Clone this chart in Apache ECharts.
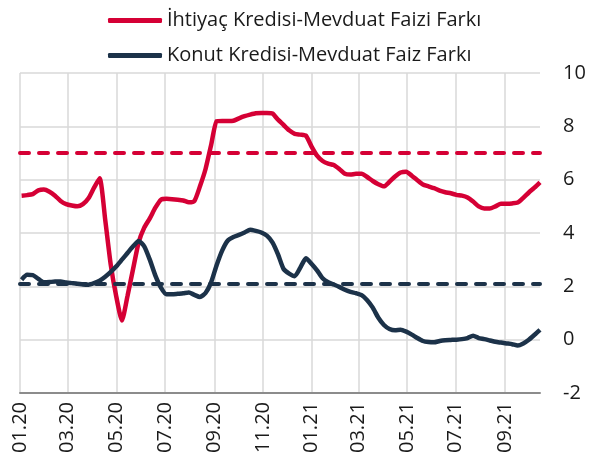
<!DOCTYPE html>
<html>
<head>
<meta charset="utf-8">
<script src="https://cdn.jsdelivr.net/npm/echarts@6/dist/echarts.min.js"></script>
<style>
  html, body { margin: 0; padding: 0; background: #fff; }
  #chart { width: 605px; height: 471px; }
</style>
</head>
<body>
<div id="chart"></div>
<script>
// ---- data (weekly) ----
const firstWeek = '2020-01-03';
const lastDay = '2021-10-15';

const ihtiyacValues = [
  5.40, 5.42, 5.46, 5.60, 5.63, 5.55, 5.40, 5.20, 5.08, 5.03,
  5.00, 5.08, 5.30, 5.70, 6.05, 4.50, 2.80, 1.60, 0.72, 1.64,
  2.65, 3.65, 4.20, 4.55, 4.95, 5.25, 5.28, 5.27, 5.25, 5.22,
  5.15, 5.20, 5.75, 6.40, 7.30, 8.19, 8.20, 8.20, 8.21, 8.30,
  8.38, 8.44, 8.49, 8.50, 8.50, 8.48, 8.25, 8.05, 7.85, 7.72,
  7.69, 7.65, 7.25, 6.90, 6.70, 6.60, 6.55, 6.40, 6.22, 6.19,
  6.22, 6.22, 6.10, 5.95, 5.83, 5.75, 5.92, 6.12, 6.27, 6.30,
  6.15, 5.98, 5.82, 5.75, 5.68, 5.59, 5.53, 5.49, 5.43, 5.40,
  5.33, 5.18, 5.00, 4.92, 4.92, 5.00, 5.10, 5.10, 5.11, 5.14,
  5.32, 5.52, 5.70, 5.90
];

const konutValues = [
  2.25, 2.43, 2.42, 2.28, 2.15, 2.16, 2.18, 2.18, 2.14, 2.12,
  2.10, 2.07, 2.06, 2.12, 2.21, 2.36, 2.54, 2.75, 3.00, 3.25,
  3.50, 3.70, 3.50, 3.00, 2.40, 1.95, 1.70, 1.70, 1.72, 1.74,
  1.77, 1.68, 1.60, 1.75, 2.15, 2.80, 3.35, 3.72, 3.85, 3.93,
  4.02, 4.12, 4.08, 4.02, 3.90, 3.65, 3.20, 2.65, 2.48, 2.38,
  2.70, 3.05, 2.85, 2.60, 2.30, 2.15, 2.07, 1.98, 1.87, 1.79,
  1.74, 1.67, 1.48, 1.20, 0.82, 0.55, 0.40, 0.35, 0.37, 0.30,
  0.19, 0.06, -0.05, -0.09, -0.10, -0.05, -0.02, -0.01, 0.00, 0.02,
  0.06, 0.15, 0.06, 0.02, -0.03, -0.08, -0.11, -0.14, -0.17, -0.22,
  -0.14, 0.00, 0.18, 0.37
];

const ihtiyacRef = 7.0;   // kırmızı kesikli çizgi
const konutRef = 2.1;     // lacivert kesikli çizgi

const tickDates = ['2020-01-01', '2020-03-01', '2020-05-01', '2020-07-01', '2020-09-01', '2020-11-01',
                   '2021-01-01', '2021-03-01', '2021-05-01', '2021-07-01', '2021-09-01'];
const tickLabels = ['01.20', '03.20', '05.20', '07.20', '09.20', '11.20',
                    '01.21', '03.21', '05.21', '07.21', '09.21'];

const names = ['İhtiyaç Kredisi-Mevduat Faizi Farkı', 'Konut Kredisi-Mevduat Faiz Farkı'];
const RED = '#d50035';
const NAVY = '#1c3249';

// ---- daily category axis so month gridlines fall on real dates ----
function iso(d) { return d.toISOString().slice(0, 10); }
const days = [];
for (let d = new Date('2020-01-01T00:00:00Z'); iso(d) <= lastDay; d.setUTCDate(d.getUTCDate() + 1)) {
  days.push(iso(d));
}
const weeks = [];
for (let i = 0, d = new Date(firstWeek + 'T00:00:00Z'); i < ihtiyacValues.length; i++, d.setUTCDate(d.getUTCDate() + 7)) {
  weeks.push(iso(d));
}
const isTick = (idx, val) => tickDates.indexOf(val) >= 0;

const chart = echarts.init(document.getElementById('chart'), null, { renderer: 'canvas' });

const dashed = (val, color) => ({
  silent: true,
  symbol: 'none',
  label: { show: false },
  lineStyle: { color: color, type: [9, 10], width: 4, cap: 'round' },
  data: [{ yAxis: val }]
});

chart.setOption({
  animation: false,
  textStyle: { fontFamily: 'Open Sans' },
  legend: {
    orient: 'vertical',
    left: 103,
    top: 3,
    itemWidth: 54,
    itemHeight: 5,
    itemGap: 10,
    icon: 'roundRect',
    data: names,
    textStyle: { fontSize: 20, color: '#1a1a1a', lineHeight: 25, fontFamily: 'Open Sans' }
  },
  grid: { left: 20, right: 65, top: 73, bottom: 78 },
  xAxis: {
    type: 'category',
    data: days,
    boundaryGap: false,
    axisLine: { onZero: false, lineStyle: { color: '#8c8c8c', width: 2 } },
    axisTick: { show: false },
    splitLine: { show: true, interval: isTick, lineStyle: { color: '#d9d9d9', width: 1.5 } },
    axisLabel: {
      interval: isTick,
      rotate: 90,
      margin: 9,
      fontSize: 20,
      color: '#1a1a1a',
      fontFamily: 'Open Sans',
      formatter: v => tickLabels[tickDates.indexOf(v)]
    }
  },
  yAxis: {
    type: 'value',
    position: 'right',
    min: -2,
    max: 10,
    interval: 2,
    axisLine: { show: false },
    axisTick: { show: false },
    splitLine: { lineStyle: { color: '#d9d9d9', width: 1.5 } },
    axisLabel: { margin: 23, fontSize: 20, color: '#1a1a1a', fontFamily: 'Open Sans' }
  },
  series: [
    {
      name: names[0],
      type: 'line',
      data: weeks.map((w, i) => [w, ihtiyacValues[i]]),
      showSymbol: false,
      smooth: 0.2,
      lineStyle: { color: RED, width: 4.5 },
      itemStyle: { color: RED },
      markLine: dashed(ihtiyacRef, RED)
    },
    {
      name: names[1],
      type: 'line',
      data: weeks.map((w, i) => [w, konutValues[i]]),
      showSymbol: false,
      smooth: 0.2,
      lineStyle: { color: NAVY, width: 4.5 },
      itemStyle: { color: NAVY },
      markLine: dashed(konutRef, NAVY)
    }
  ]
});
</script>
</body>
</html>
